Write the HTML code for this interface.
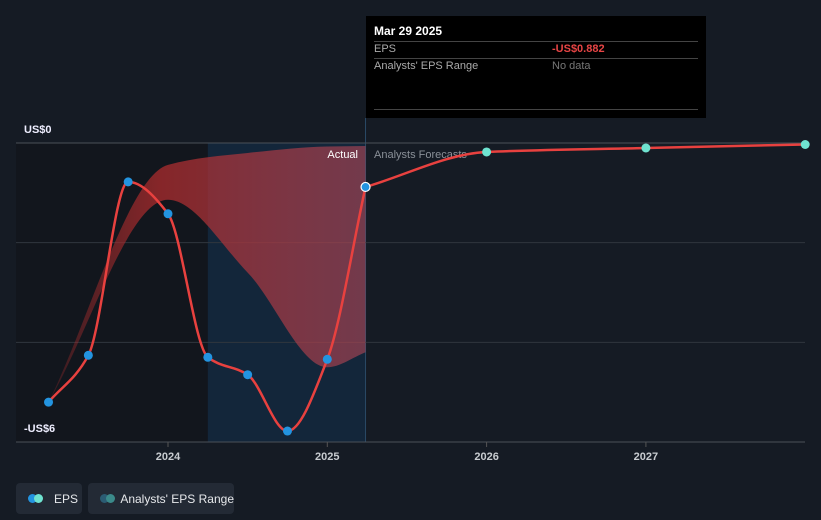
<!DOCTYPE html>
<html><head><meta charset="utf-8"><style>
html,body{margin:0;padding:0;background:#151b24;width:821px;height:520px;overflow:hidden;font-family:"Liberation Sans",sans-serif}
.leg{position:absolute;top:483px;height:31px;border-radius:4px;background:#232a35;color:#e6e8eb;font-size:12px;display:flex;align-items:center;white-space:nowrap}
.dot{display:inline-block;width:9px;height:9px;border-radius:50%}
</style></head><body>
<svg id="c" width="821" height="520" style="position:absolute;left:0;top:0">
<defs>
<linearGradient id="rg" x1="0" y1="0" x2="1" y2="0"><stop offset="0" stop-color="#c0302f" stop-opacity="0.2"/><stop offset="0.35" stop-color="#a32a2c" stop-opacity="0.8"/><stop offset="1" stop-color="#c04a5a" stop-opacity="0.55"/></linearGradient>
</defs>
</svg>
<div style="position:absolute;left:366px;top:16px;width:340px;height:102px;background:#000">
<div style="position:absolute;left:8px;top:8px;color:#fff;font-size:12px;font-weight:bold">Mar 29 2025</div>
<div style="position:absolute;left:8px;right:8px;top:25px;border-top:1px solid #444"></div>
<div style="position:absolute;left:8px;top:27px;color:#aaa;font-size:11px">EPS</div>
<div style="position:absolute;left:186px;top:27px;color:#e84545;font-size:11px;font-weight:bold">-US$0.882</div>
<div style="position:absolute;left:8px;right:8px;top:42px;border-top:1px solid #444"></div>
<div style="position:absolute;left:8px;top:44px;color:#aaa;font-size:11px">Analysts' EPS Range</div>
<div style="position:absolute;left:186px;top:44px;color:#777;font-size:11px">No data</div>
<div style="position:absolute;left:8px;right:8px;top:93px;border-top:1px solid #444"></div>
</div>
<div class="leg" style="left:16px;width:66px"><span style="margin-left:12px;position:relative;width:16px;height:9px"><span class="dot" style="background:#2394e0;position:absolute;left:0"></span><span class="dot" style="background:#6fe3d0;position:absolute;left:6px"></span></span><span style="margin-left:10px">EPS</span></div>
<div class="leg" style="left:88px;width:146px"><span style="margin-left:12px;position:relative;width:16px;height:9px"><span class="dot" style="background:#2b5c73;position:absolute;left:0"></span><span class="dot" style="background:#3b8a8a;position:absolute;left:6px"></span></span><span style="margin-left:6px">Analysts' EPS Range</span></div>
<script>
const actualX=[2023.25,2023.5,2023.75,2024.0,2024.25,2024.5,2024.75,2025.0,2025.24];
const actualY=[-5.2,-4.26,-0.78,-1.42,-4.3,-4.65,-5.78,-4.34,-0.882];
const fcX=[2025.24,2026,2027,2028];
const fcY=[-0.882,-0.18,-0.1,-0.03];
const rangeX=[2023.25,2024.0,2024.5,2025.0,2025.24];
const rangeHi=[-5.2,-0.44,-0.2,-0.07,-0.06];
const rangeLo=[-5.2,-1.14,-2.6,-4.5,-4.2];
const yTicks=[0,-2,-4,-6];
const xTicks=[2024,2025,2026,2027];
const X=v=>168+(v-2024)*159.3, Y=v=>143-v*(299/6);
const svg=document.getElementById('c');const NS='http://www.w3.org/2000/svg';
function mk(t,a,n){const e=document.createElementNS(NS,t);for(const k in a)e.setAttribute(k,a[k]);


svg.appendChild(e);return e;}
function pts(xs,ys){return xs.map((x,i)=>[X(x),Y(ys[i])]);}
function curve(p,start){const n=p.length,s=[],m=[];
for(let i=0;i<n-1;i++)s.push((p[i+1][1]-p[i][1])/(p[i+1][0]-p[i][0]));
for(let i=0;i<n;i++){if(i==0)m.push(s[0]);else if(i==n-1)m.push(s[n-2]);else m.push(s[i-1]*s[i]<=0?0:2/(1/s[i-1]+1/s[i]));}
let d=start?'M'+p[0]:'';
for(let i=0;i<n-1;i++){const h=(p[i+1][0]-p[i][0])/3;
d+=' C'+[p[i][0]+h,p[i][1]+m[i]*h]+' '+[p[i+1][0]-h,p[i+1][1]-m[i+1]*h]+' '+p[i+1];}return d;}
const xs=X(2024.25),xe=X(actualX[actualX.length-1]);
mk('rect',{x:16,y:143,width:xs-16,height:299,fill:'#12161d'},'past-shade');
mk('rect',{x:xs,y:143,width:xe-xs,height:299,fill:'#13263a'},'forecast-range-shade');
mk('line',{x1:xe,y1:118,x2:xe,y2:442,stroke:'#2a4a66'},'current-marker');
yTicks.forEach(t=>mk('line',{x1:16,x2:805,y1:Y(t),y2:Y(t),stroke:t==0||t==-6?'#4a5058':'#30363e'},'grid-line'));
xTicks.forEach(t=>{mk('line',{x1:X(t),x2:X(t),y1:442,y2:447,stroke:'#555'},'x-tick');
const e=mk('text',{x:X(t),y:460,fill:'#c8ccd0','font-size':11,'text-anchor':'middle','font-weight':'bold'},'x-tick-label');e.textContent=t;});
[[0,'US$0'],[-6,'-US$6']].forEach(([v,s])=>{const e=mk('text',{x:24,y:Y(v)-10,fill:'#eef','font-size':11,'font-weight':'bold'},'y-axis-label');e.textContent=s;});
const hi=pts(rangeX,rangeHi),lo=pts(rangeX,rangeLo).reverse();
const loR=lo.map(p=>[-p[0],p[1]]);
function curveR(p){return curve(p,false).replace(/(-?[\d.]+),(-?[\d.]+)/g,(a,x,y)=>(-x)+','+y);}
mk('path',{d:curve(hi,true)+' L'+lo[0]+curveR(loR)+'Z',fill:'url(#rg)'},'analysts-range-band');
let t=mk('text',{x:358,y:158,fill:'#fff','font-size':11,'text-anchor':'end'},'actual-label');t.textContent='Actual';
t=mk('text',{x:374,y:158,fill:'#8a9098','font-size':11},'forecast-label');t.textContent='Analysts Forecasts';
const ap=pts(actualX,actualY),fp=pts(fcX,fcY);
mk('path',{d:curve(ap,true),fill:'none',stroke:'#e8413f','stroke-width':2.5},'eps-line');
mk('path',{d:curve(fp,true),fill:'none',stroke:'#e8413f','stroke-width':2.5},'eps-forecast-line');
ap.forEach((p,i)=>{const last=i==ap.length-1;mk('circle',{cx:p[0],cy:p[1],r:4.5,fill:'#2394e0',stroke:last?'#fff':'none','stroke-width':1.2},'eps-point');});
fp.slice(1).forEach(p=>mk('circle',{cx:p[0],cy:p[1],r:4.5,fill:'#6fe3d0'},'forecast-point'));
</script>
</body></html>
